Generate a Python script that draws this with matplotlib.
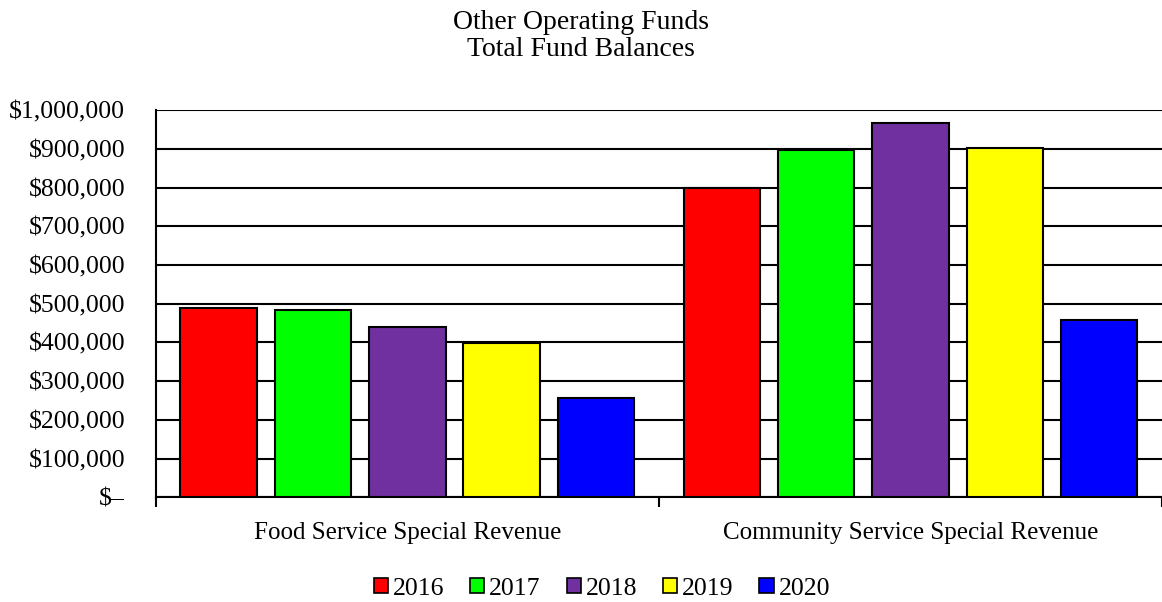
import matplotlib.pyplot as plt
import matplotlib.ticker as mticker
from matplotlib.patches import Patch

plt.rcParams['font.family'] = ['Liberation Serif', 'DejaVu Serif']

categories = ['Food Service Special Revenue', 'Community Service Special Revenue']
years = ['2016', '2017', '2018', '2019', '2020']
colors = ['#ff0000', '#00ff00', '#7030a0', '#ffff00', '#0000ff']
food = [488000, 483000, 439000, 398000, 256000]
community = [798000, 897000, 966000, 902000, 457000]

values = [food, community]

fig = plt.figure(figsize=(11.62, 6.02), dpi=100)
ax = fig.add_axes([0.134, 0.174, 0.866, 0.643])

step = 0.1875
width = 0.152
for i, yr in enumerate(years):
    xs = [c + (i - 2) * step for c in range(len(categories))]
    ax.bar(xs, [v[i] for v in values], width=width, color=colors[i],
           edgecolor='black', linewidth=1.5, zorder=3)

ax.set_xlim(-0.5, 1.5)
ax.set_ylim(0, 1000000)
ax.set_yticks(range(0, 1000001, 100000))
ax.yaxis.set_major_formatter(mticker.FuncFormatter(
    lambda v, p: '$\u2013' if v == 0 else '${:,.0f}'.format(v)))
ax.grid(axis='y', color='black', linewidth=1.5, zorder=0)
ax.tick_params(axis='y', labelsize=18.5, length=0, pad=22)

ax.set_xticks([0, 1])
ax.set_xticklabels(categories)
ax.tick_params(axis='x', length=0, labelsize=18, pad=18)
ax.set_xticks([-0.5, 0.5, 1.5], minor=True)
ax.tick_params(axis='x', which='minor', length=7, width=1.5, direction='out')

for s in ['top', 'right']:
    ax.spines[s].set_visible(False)
ax.spines['left'].set_linewidth(1.5)
ax.spines['bottom'].set_linewidth(1.5)
ax.spines['left'].set_bounds(0, 1000000)

fig.text(0.5, 0.962, 'Other Operating Funds', ha='center', va='center', fontsize=20)
fig.text(0.5, 0.918, 'Total Fund Balances', ha='center', va='center', fontsize=20)

handles = [Patch(facecolor=c, edgecolor='black', linewidth=1.2, label=y)
           for c, y in zip(colors, years)]
fig.legend(handles=handles, loc='center', bbox_to_anchor=(0.518, 0.022), ncol=5,
           frameon=False, fontsize=18.5, handlelength=0.55, handleheight=0.55,
           handletextpad=0.2, columnspacing=1.0, borderpad=0)

fig.savefig('out.png', dpi=100)
